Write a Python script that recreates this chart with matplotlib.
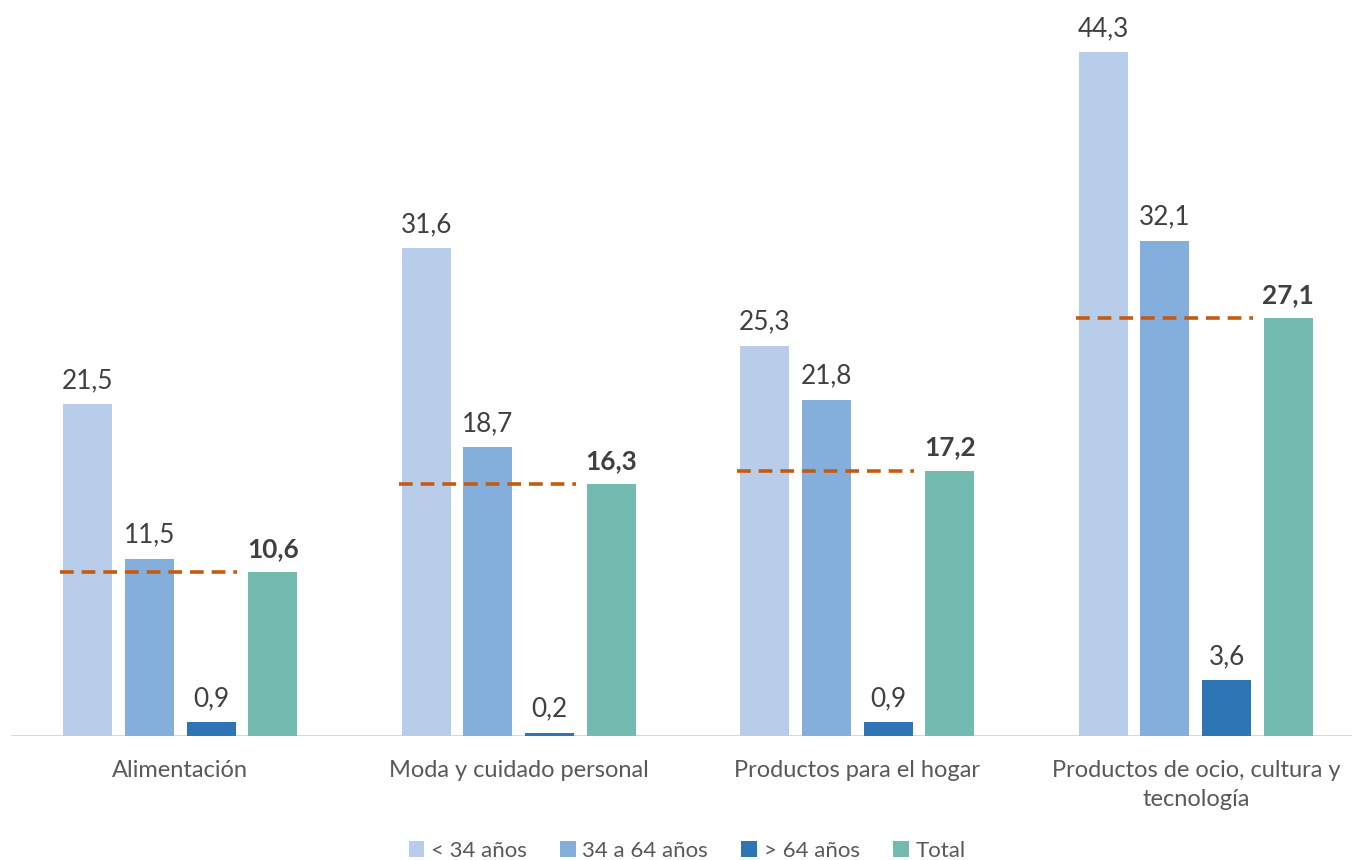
import numpy as np
import matplotlib
matplotlib.use("Agg")
import matplotlib.pyplot as plt
from matplotlib.patches import Patch

plt.rcParams['font.family'] = ['Lato', 'DejaVu Sans']

categorias = ["Alimentación", "Moda y cuidado personal", "Productos para el hogar",
              "Productos de ocio, cultura y\ntecnología"]
series = ["< 34 años", "34 a 64 años", "> 64 años", "Total"]
menos_34 = [21.5, 31.6, 25.3, 44.3]
de_34_a_64 = [11.5, 18.7, 21.8, 32.1]
mas_64 = [0.9, 0.2, 0.9, 3.6]
total = [10.6, 16.3, 17.2, 27.1]

colores = ["#B8CDE9", "#84AEDB", "#2E75B6", "#73BAB0"]
valores = [menos_34, de_34_a_64, mas_64, total]

fig = plt.figure(figsize=(13.58, 8.6), dpi=100)
ax = fig.add_axes([11 / 1358, 124 / 860, 1347 / 1358, 736 / 860])

x = np.arange(len(categorias))
paso = 0.182
ancho = 0.1445
offsets = (np.arange(4) - 1.5) * paso

for i, (vals, col) in enumerate(zip(valores, colores)):
    bars = ax.bar(x + offsets[i], vals, width=ancho, color=col, zorder=2)
    for b, v in zip(bars, vals):
        ax.annotate(f"{v:.1f}".replace(".", ","),
                    (b.get_x() + b.get_width() / 2, v),
                    xytext=(0, 8), textcoords="offset points",
                    ha="center", va="bottom", fontsize=18.8, color="#404040",
                    fontweight="bold" if i == 3 else "normal")

# linea discontinua con el total, sobre las tres primeras barras
for xi, t in zip(x, total):
    ax.plot([xi - 0.354, xi + 0.168], [t, t], color="#C55A11", lw=2.6,
            dashes=(3.8, 2.2), zorder=3)

ax.set_xlim(-0.5, -0.5 + 1347 / 338.5)
ax.set_ylim(0, 736 / 15.43)
for s in ax.spines.values():
    s.set_visible(False)
ax.axhline(0, xmin=0, xmax=1340 / 1347, color="#D9D9D9", lw=1.5, zorder=1)
ax.set_xticks([])
ax.set_yticks([])

for xi, c in zip(x, categorias):
    ax.text(xi, -1.55, c, ha="center", va="top", fontsize=17, color="#595959",
            linespacing=1.5)

handles = [Patch(facecolor=c, edgecolor="none") for c in colores]
fig.legend(handles, series, loc="center", bbox_to_anchor=(687 / 1358, 1 - 851 / 860),
           ncol=4, frameon=False, fontsize=16, labelcolor="#595959",
           handlelength=0.7, handleheight=0.7, handletextpad=0.3, columnspacing=1.5)

fig.savefig("out.png", dpi=100)
